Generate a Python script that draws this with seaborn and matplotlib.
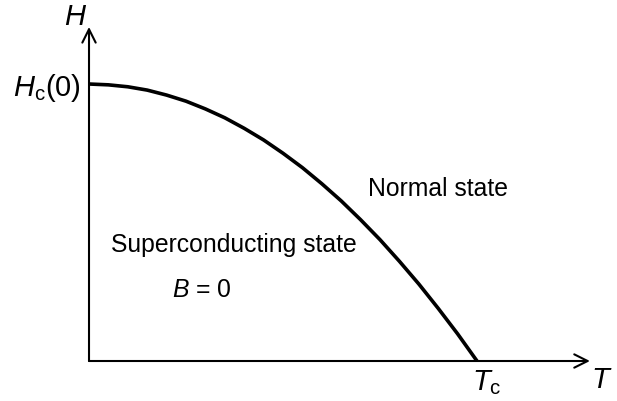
# Diagrama de fase H-T de um supercondutor do tipo I

import matplotlib
matplotlib.use("Agg")
import matplotlib.pyplot as plt
import seaborn as sns
import numpy as np
import pandas as pd

# Curva critica Hc(T) (T/Tc e H/Hc(0))
temp = [0.0, 0.05, 0.1, 0.15, 0.2, 0.25, 0.3, 0.35, 0.4, 0.45, 0.5,
        0.55, 0.6, 0.65, 0.7, 0.75, 0.8, 0.85, 0.9, 0.95, 1.0]
campo = [1.0, 0.997, 0.99, 0.978, 0.96, 0.938, 0.91, 0.878, 0.84, 0.798, 0.75,
         0.698, 0.64, 0.578, 0.51, 0.438, 0.36, 0.278, 0.19, 0.098, 0.0]

rotulo_normal = "Normal state"
rotulo_super = "Superconducting state"
rotulo_b = r"$B$ = 0"

df = pd.DataFrame({"T": temp, "H": campo})

sns.set_style("white")
plt.rcParams["font.family"] = ["Liberation Sans", "DejaVu Sans"]
plt.rcParams["mathtext.fontset"] = "custom"
plt.rcParams["mathtext.rm"] = "Liberation Sans"
plt.rcParams["mathtext.it"] = "Liberation Sans:italic"
plt.rcParams["text.color"] = "black"

fig = plt.figure(figsize=(6.17, 4.02), dpi=100)
ax = fig.add_axes([0, 0, 1, 1])

sns.lineplot(data=df, x="T", y="H", color="black", linewidth=2.6, ax=ax,
             solid_capstyle="butt")

# eixos com setas
seta = dict(arrowstyle="->", color="black", lw=1.5, mutation_scale=24,
            shrinkA=0, shrinkB=0)
ax.annotate("", xy=(1.291, 0), xytext=(0, 0), arrowprops=seta)
ax.annotate("", xy=(0, 1.206), xytext=(0, 0), arrowprops=seta)

ax.set_xlim(-0.2294, 1.3608)
ax.set_ylim(-0.1444, 1.3069)
ax.axis("off")

# rotulos
ax.text(-0.036, 1.245, r"$H$", fontsize=21, ha="center", va="center")
ax.text(1.322, -0.065, r"$T$", fontsize=21, ha="center", va="center")
ax.text(-0.02, 0.99, r"$H_\mathrm{c}$(0)", fontsize=21, ha="right", va="center")
ax.text(0.987, -0.101, r"$T_\mathrm{c}$", fontsize=21, ha="left", va="baseline")

ax.text(0.899, 0.599, rotulo_normal, fontsize=17.8, ha="center", va="baseline")
ax.text(0.374, 0.397, rotulo_super, fontsize=17.8, ha="center", va="baseline")
ax.text(0.291, 0.235, rotulo_b, fontsize=17.8, ha="center", va="baseline")

fig.savefig("out.png", dpi=100)
